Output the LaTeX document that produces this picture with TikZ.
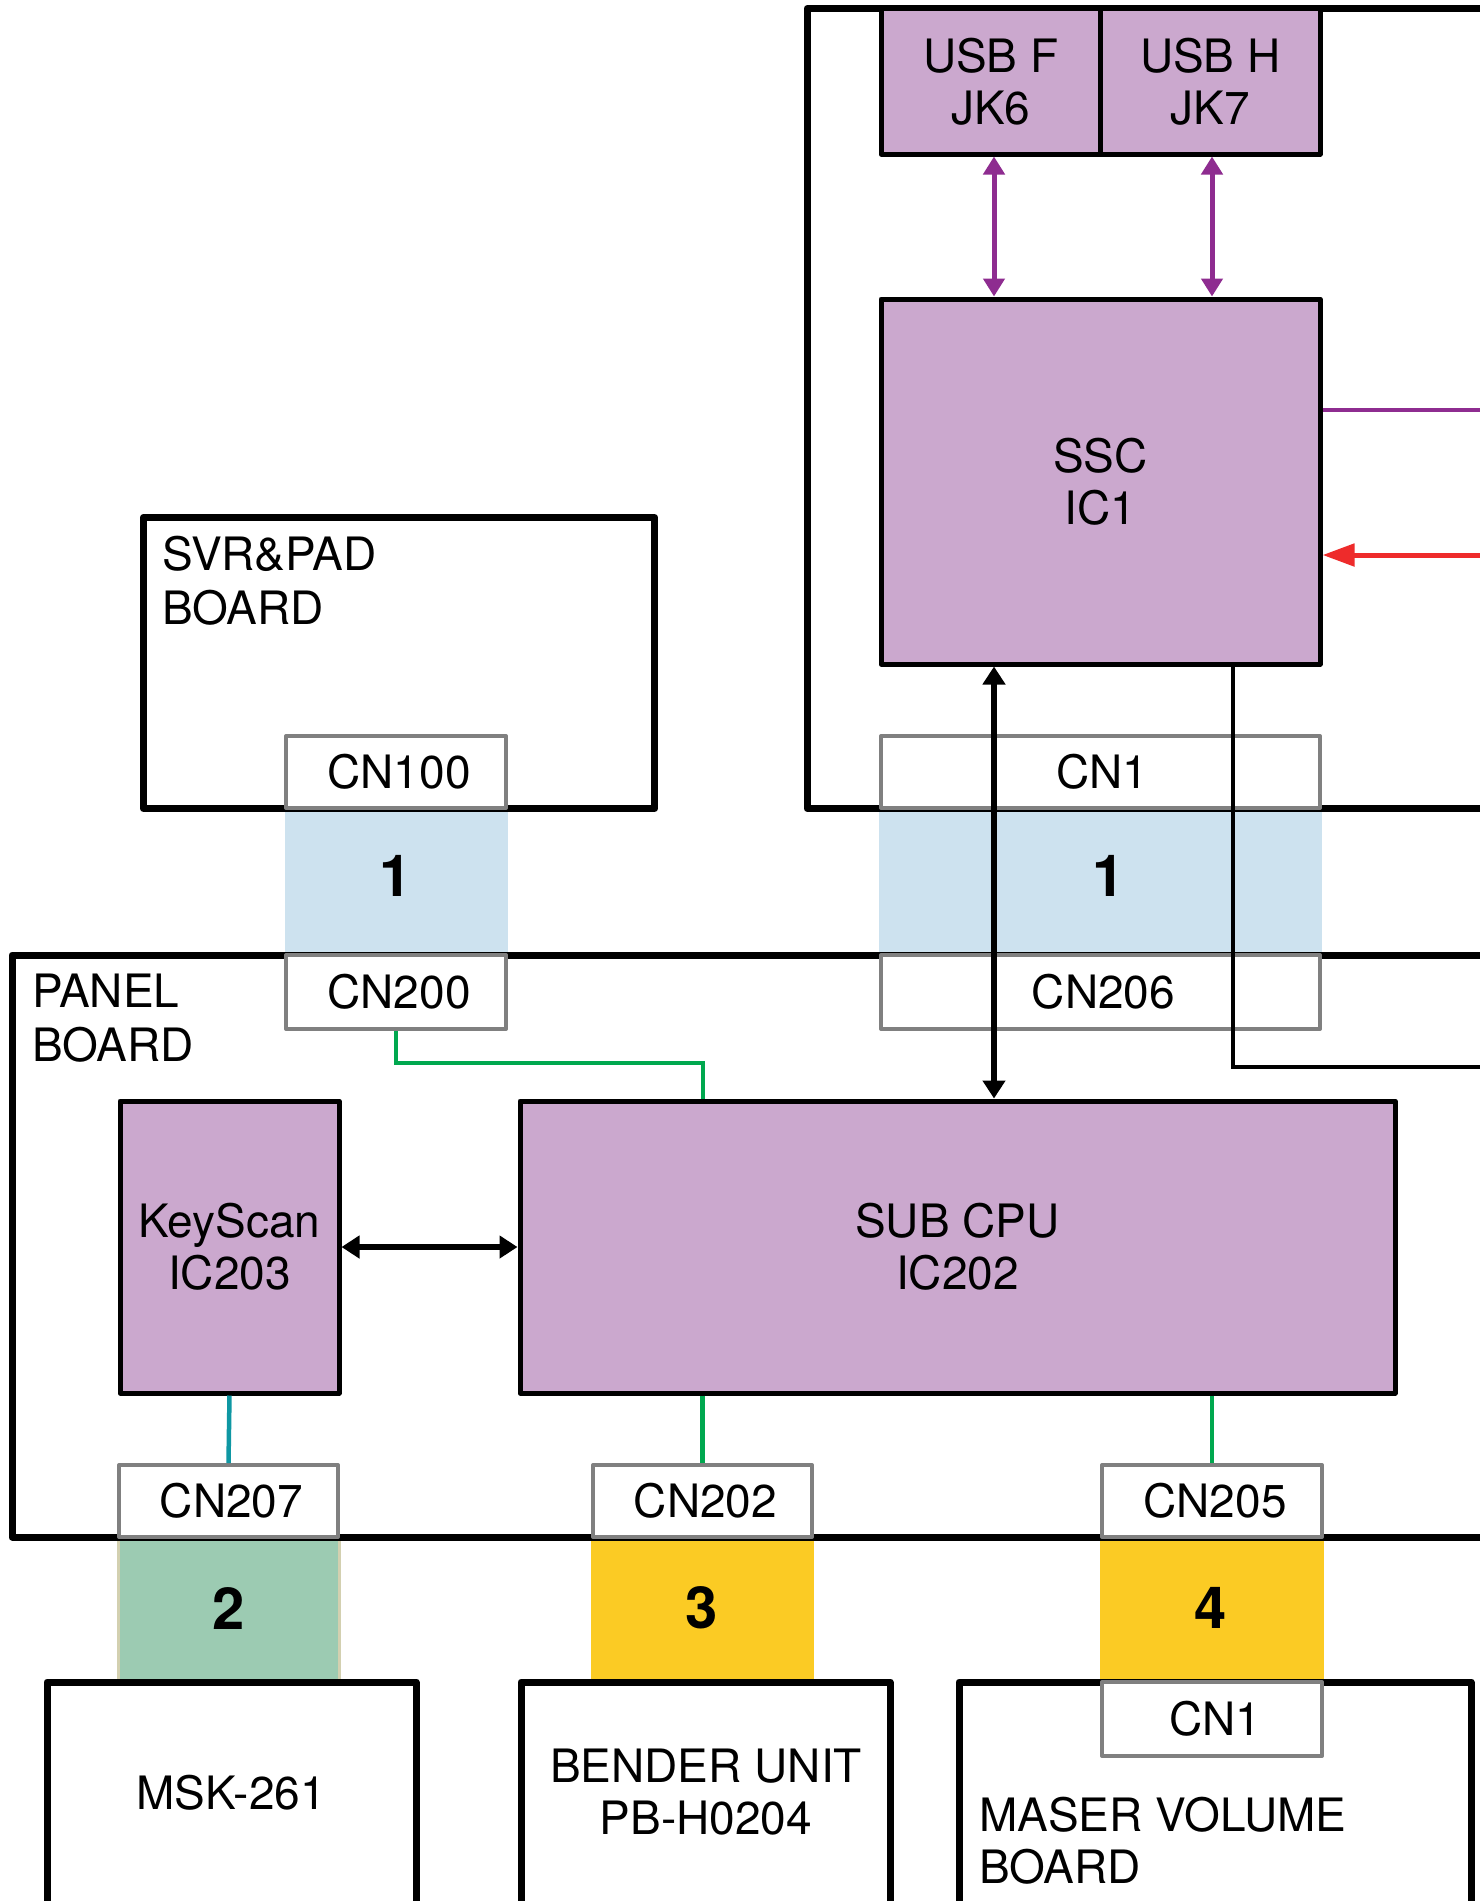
\documentclass[tikz,border=0pt]{standalone}
\usepackage{fontspec}
\setmainfont{TeX Gyre Heros}
\usetikzlibrary{arrows.meta}
\definecolor{icpurple}{HTML}{CBA8CE}
\definecolor{bandblue}{HTML}{CDE2EF}
\definecolor{bandgreen}{HTML}{9CCBB2}
\definecolor{bandtan}{HTML}{D3D0B0}
\definecolor{bandyellow}{HTML}{FBCB24}
\definecolor{linepurple}{HTML}{8E2C90}
\definecolor{linered}{HTML}{EE2B2B}
\definecolor{linegreen}{HTML}{00A84F}
\definecolor{lineteal}{HTML}{0E97A3}
\definecolor{cngray}{HTML}{808080}
\begin{document}
\begin{tikzpicture}[x=1pt,y=-1pt,
  every node/.style={font=\fontsize{46}{52}\selectfont, inner sep=0pt},
  board/.style={draw=black, line width=7pt, line join=round, rectangle},
  icbox/.style={draw=black, fill=icpurple, line width=5pt, line join=round, rectangle, align=center},
  cnbox/.style={draw=cngray, fill=white, line width=4pt, line join=round, rectangle},
  band/.style={rectangle},
  numlbl/.style={font=\fontsize{58}{60}\bfseries},
  lbl/.style={anchor=base west},
  purplearrow/.style={draw=linepurple, line width=5pt, {Triangle[length=18pt,width=21pt]}-{Triangle[length=18pt,width=21pt]}},
  blackarrow/.style={draw=black, line width=5.5pt, {Triangle[length=18pt,width=22pt]}-{Triangle[length=18pt,width=22pt]}},
  sigline/.style={line width=4.5pt},
]
\useasboundingbox (0,0) rectangle (1480,1901);
\clip (0,0) rectangle (1480,1901);
\fill[white] (0,0) rectangle (1480,1901);

% bands
\node[band, fill=bandblue, minimum width=223, minimum height=146] (band1a) at (396,882) {};
\node[band, fill=bandblue, minimum width=443, minimum height=146] (band1b) at (1100.5,882) {};
\node[band, fill=bandgreen, draw=bandtan, line width=3pt, minimum width=221, minimum height=145] (band2) at (228.5,1609.5) {};
\node[band, fill=bandyellow, minimum width=223, minimum height=145] (band3) at (702.5,1609.5) {};
\node[band, fill=bandyellow, minimum width=224, minimum height=145] (band4) at (1212,1609.5) {};
\node[numlbl] (num1a) at (396,876) {1};
\node[numlbl] (num1b) at (1109,876) {1};
\node[numlbl] (num2) at (229,1608) {2};
\node[numlbl] (num3) at (702,1608) {3};
\node[numlbl] (num4) at (1211,1608) {4};

% boards
\node[board, minimum width=793, minimum height=800] (mainboard) at (1203.5,408.5) {};
\node[board, minimum width=511.5, minimum height=291] (svr) at (399,663) {};
\node[board, minimum width=1588, minimum height=582] (panel) at (806,1246) {};
\node[board, minimum width=369, minimum height=318] (msk) at (231.5,1841) {};
\node[board, minimum width=369, minimum height=318] (bender) at (705.5,1841) {};
\node[board, minimum width=512, minimum height=318] (maser) at (1215,1841) {};

% board labels
\node[lbl] (svrl1) at (162,570) {SVR\&PAD};
\node[lbl] (svrl2) at (162,624) {BOARD};
\node[lbl] (panell1) at (32,1007) {PANEL};
\node[lbl] (panell2) at (32,1061) {BOARD};
\node[lbl] (maserl1) at (979,1831) {MASER VOLUME};
\node[lbl] (maserl2) at (979,1883) {BOARD};
\node (msklbl) at (231,1793) {MSK-261};
\node[align=center] (benderlbl) at (706,1792) {BENDER UNIT\\PB-H0204};

% IC boxes
\node[icbox, minimum width=219.6, minimum height=145.5] (usbf) at (990.8,81.25) {USB F\\JK6};
\node[icbox, minimum width=219.4, minimum height=145.5] (usbh) at (1210.3,81.25) {USB H\\JK7};
\node[icbox, minimum width=439, minimum height=365] (ssc) at (1100.5,481.5) {SSC\\IC1};
\node[icbox, minimum width=219, minimum height=292] (keyscan) at (229.5,1247) {KeyScan\\IC203};
\node[icbox, minimum width=875, minimum height=292] (subcpu) at (957.5,1247) {SUB CPU\\IC202};

% connector boxes
\node[cnbox, minimum width=219.5, minimum height=72] (cn100) at (396,772) {\hspace{6pt}CN100};
\node[cnbox, minimum width=219.5, minimum height=74] (cn200) at (396,992) {\hspace{6pt}CN200};
\node[cnbox, minimum width=439, minimum height=72] (cn1) at (1100.5,772) {\hspace{4pt}CN1};
\node[cnbox, minimum width=439, minimum height=74] (cn206) at (1100.5,992) {\hspace{6pt}CN206};
\node[cnbox, minimum width=219, minimum height=72] (cn207) at (228.5,1501) {\hspace{6pt}CN207};
\node[cnbox, minimum width=219, minimum height=72] (cn202) at (702.5,1501) {\hspace{6pt}CN202};
\node[cnbox, minimum width=220, minimum height=72] (cn205) at (1212,1501) {\hspace{6pt}CN205};
\node[cnbox, minimum width=220, minimum height=74] (cn1m) at (1212,1719) {\hspace{6pt}CN1};

% coordinates
\coordinate (usbfx) at (994,0);
\coordinate (usbhx) at (1212,0);
\coordinate (purpleout) at (1500,410);
\coordinate (redin) at (1500,555);
\coordinate (blkturn) at (1233,1067);
\coordinate (blkout) at (1500,1067);
\coordinate (gturn) at (703,1063);

% connectors
\draw[purplearrow] (usbfx |- usbf.south) -- (usbfx |- ssc.north);
\draw[purplearrow] (usbhx |- usbh.south) -- (usbhx |- ssc.north);
\draw[draw=linepurple, line width=4.5pt] (ssc.east |- purpleout) -- (purpleout);
\draw[draw=linered, line width=5pt, -{Triangle[length=32pt,width=22pt]}] (redin) -- (ssc.east |- redin);
\draw[blackarrow] (usbfx |- ssc.south) -- (usbfx |- subcpu.north);
\draw[draw=black, line width=4.5pt] (blkturn |- ssc.south) -- (blkturn) -- (blkout);
\draw[draw=linegreen, sigline] (cn200.south) |- (gturn) -- (gturn |- subcpu.north);
\draw[blackarrow] (keyscan.east) -- (subcpu.west);
\draw[draw=lineteal, sigline] (keyscan.south) -- (cn207.north);
\draw[draw=linegreen, sigline] (subcpu.south -| cn202.north) -- (cn202.north);
\draw[draw=linegreen, sigline] (subcpu.south -| cn205.north) -- (cn205.north);
\end{tikzpicture}
\end{document}
